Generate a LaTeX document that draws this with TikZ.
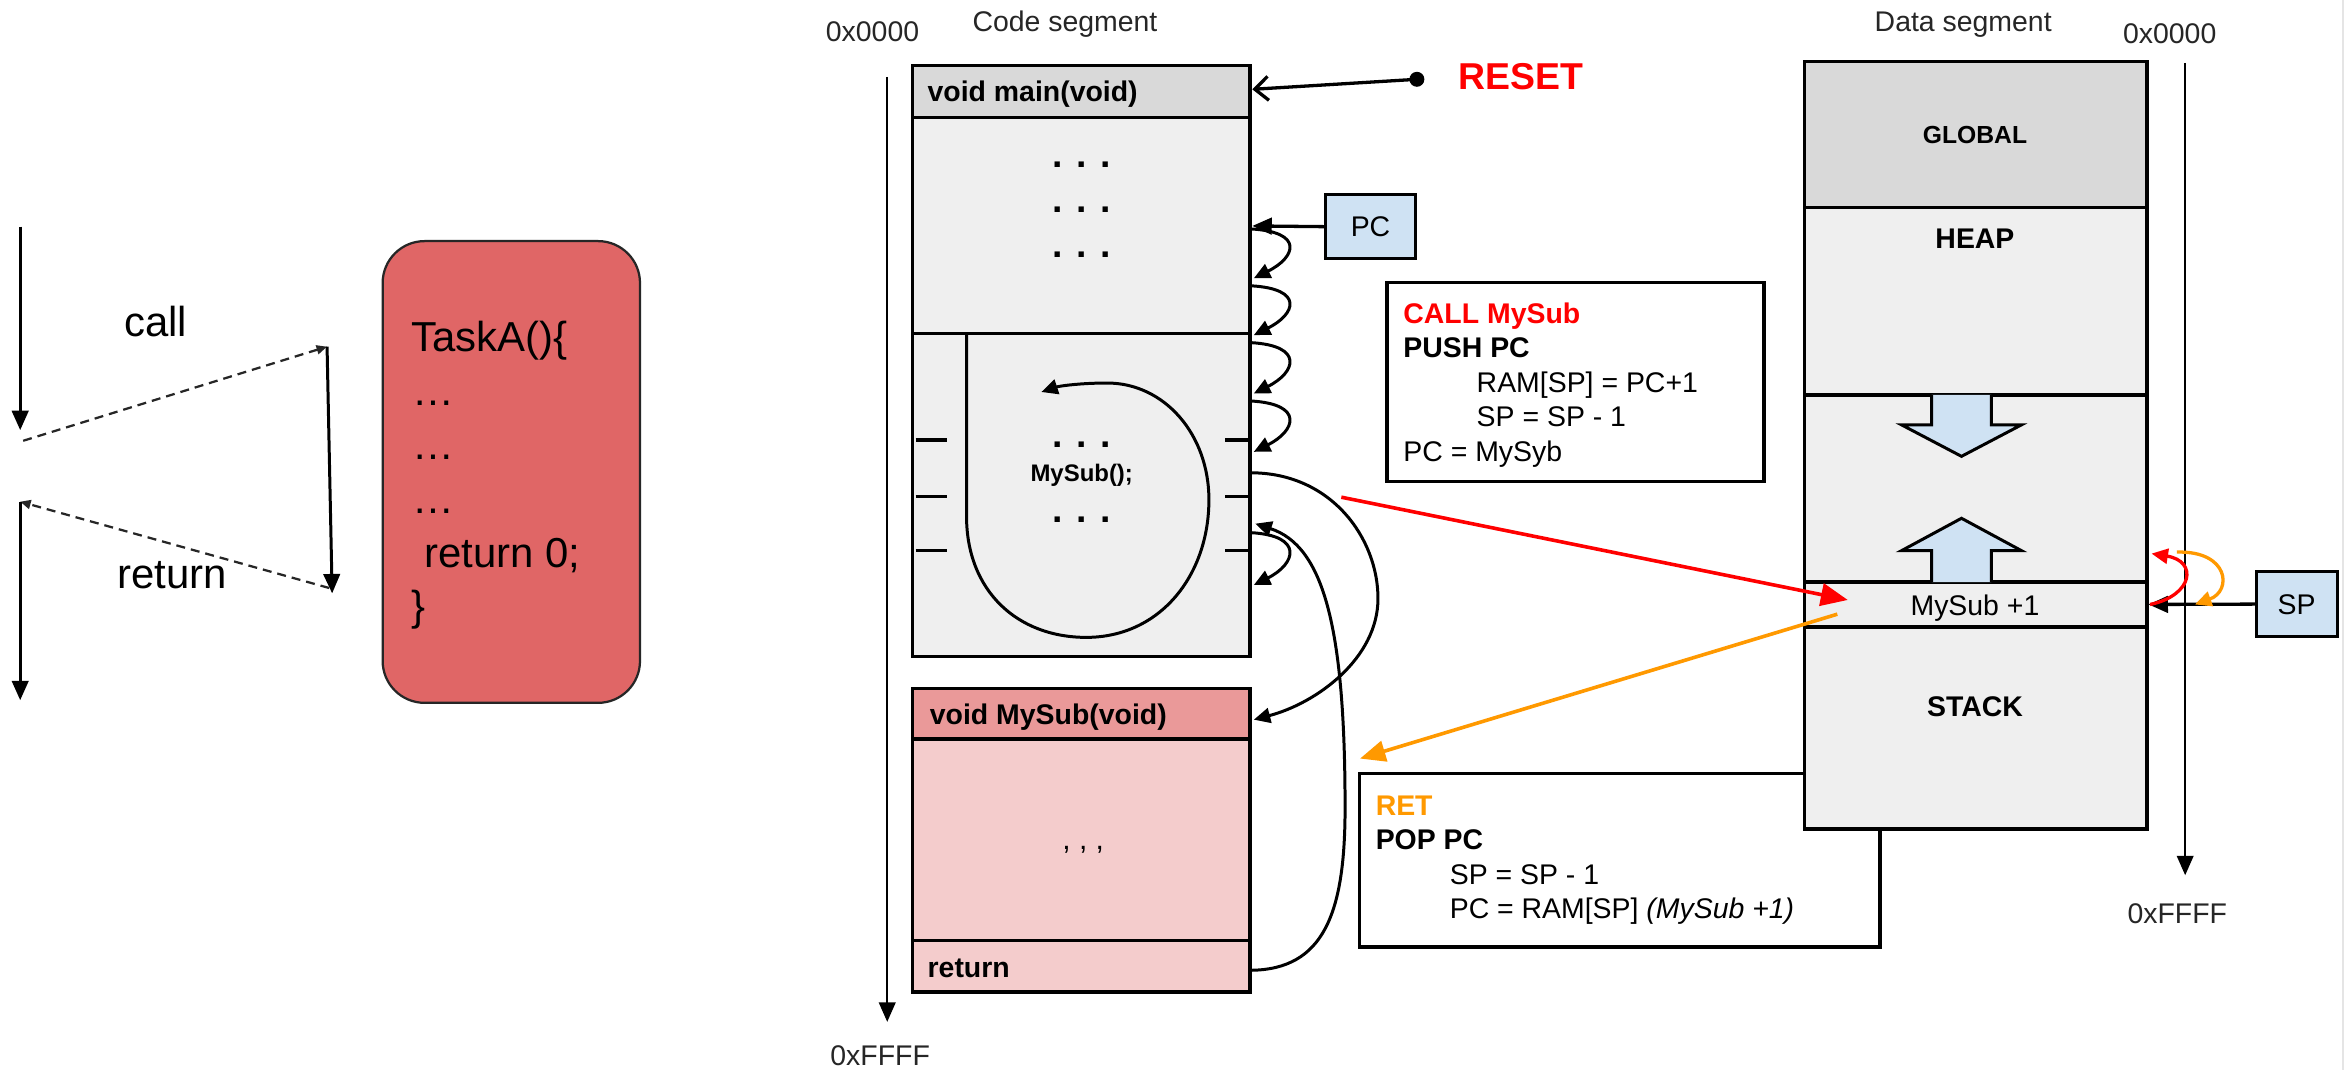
\documentclass[tikz,border=0pt]{standalone}
\usepackage{fontspec}
\setmainfont{Liberation Sans}
\usetikzlibrary{arrows.meta,calc}
\definecolor{taskred}{HTML}{E06666}
\definecolor{hdrgray}{HTML}{D9D9D9}
\definecolor{bodygray}{HTML}{EFEFEF}
\definecolor{subhdr}{HTML}{EA9999}
\definecolor{subbody}{HTML}{F4CCCC}
\definecolor{regblue}{HTML}{CFE2F3}
\definecolor{callred}{HTML}{FF0000}
\definecolor{retorange}{HTML}{FF9900}
\newcommand{\fS}{\fontsize{19pt}{23pt}\selectfont}
\newcommand{\fL}{\fontsize{28pt}{36pt}\selectfont}
\begin{document}
\begin{tikzpicture}[x=1pt,y=-1pt,
  txt/.style={inner sep=0pt, outer sep=0pt, text=black, anchor=base west},
  ctxt/.style={inner sep=0pt, outer sep=0pt, text=black, anchor=base},
  seg/.style={draw=black, line width=2.2pt, inner sep=0pt, outer sep=0pt, anchor=north west},
  conn/.style={draw=black, line width=2pt},
  tipT/.style={-{Triangle[length=13pt,width=11pt]}},
  tipH/.style={-{Triangle[length=11pt,width=10pt]}},
  tipD/.style={-{Triangle[length=7pt,width=6pt]}},
  dashconn/.style={draw=black!85, line width=1.5pt, dash pattern=on 6pt off 4pt},
  tickmark/.style={draw=black, line width=2.2pt},
  blockarrow/.style={fill=regblue},
  blockedge/.style={draw=black, line width=2pt, line join=miter}
]
\useasboundingbox (0,0) rectangle (1568,715);
\fill[white] (0,0) rectangle (1568,715);
\draw[gray!20, line width=1pt] (1566,0) -- (1566,715);

% ---------- left: call / return sketch ----------
\coordinate (m1a) at (13.5,151.5);
\coordinate (m1b) at (13.5,287.5);
\coordinate (d1a) at (15.5,294.6);
\coordinate (t2a) at (218.6,231.7);
\coordinate (t2b) at (222,396.6);
\coordinate (d2a) at (220,393);
\coordinate (m3a) at (13.5,335.3);
\coordinate (m3b) at (13.5,468);
\draw[conn, tipT] (m1a) -- (m1b);
\draw[dashconn, tipD] (d1a) -- (t2a);
\draw[conn, tipT] (t2a) -- (t2b);
\draw[dashconn, tipD] (d2a) -- (m3a);
\draw[conn, tipT] (m3a) -- (m3b);
\node[txt, font=\fL] (calllbl) at (83,225) {call};
\node[txt, font=\fL] (retlbl) at (78.5,393) {return};

\node[draw=black!85, line width=1.5pt, rounded corners=28pt, fill=taskred,
      minimum width=172pt, minimum height=308.6pt, inner sep=0pt, anchor=north west] (taskA) at (255,160.4) {};
\node[txt, font=\fL] (ta1) at (275,235) {TaskA()\{};
\node[txt, font=\fL] (ta2) at (276,271) {…};
\node[txt, font=\fL] (ta3) at (276,307) {…};
\node[txt, font=\fL] (ta4) at (276,343) {…};
\node[txt, font=\fL] (ta5) at (283.5,379) {return 0;};
\node[txt, font=\fL] (ta6) at (275,415) {\}};

% ---------- code segment ----------
\node[txt, font=\fS, text=black!85] (c0) at (552,28) {0x0000};
\node[txt, font=\fS, text=black!85] (ctitle) at (650,21) {Code segment};
\node[txt, font=\fS, text=black!85] (cF) at (555,712) {0xFFFF};
\coordinate (caxA) at (593,51.3);
\coordinate (caxB) at (593,683);
\draw[conn, line width=1.6pt, tipT] (caxA) -- (caxB);

\node[seg, fill=bodygray, minimum width=225.5pt, minimum height=145pt] (mainbody) at (610,78) {};
\node[seg, fill=bodygray, minimum width=225.5pt, minimum height=216pt] (callarea) at (610,223) {};
\node[seg, fill=hdrgray, minimum width=225.5pt, minimum height=34.5pt] (mainhdr) at (610,44) {};
\node[txt, font=\fS\bfseries] (mainlbl) at (620,68) {void main(void)};
\node[ctxt, font=\fontsize{25pt}{30pt}\selectfont\bfseries] (dots1) at (723,111.7) {. . .};
\node[ctxt, font=\fontsize{25pt}{30pt}\selectfont\bfseries] (dots2) at (723,141.7) {. . .};
\node[ctxt, font=\fontsize{25pt}{30pt}\selectfont\bfseries] (dots3) at (723,172) {. . .};
\node[ctxt, font=\fontsize{25pt}{30pt}\selectfont\bfseries] (dots4) at (723,299.2) {. . .};
\node[ctxt, font=\fontsize{16pt}{20pt}\selectfont\bfseries] (mysubcall) at (723,322) {MySub();};
\node[ctxt, font=\fontsize{25pt}{30pt}\selectfont\bfseries] (dots5) at (723,349) {. . .};

\foreach \ty in {294,332,368} {
  \draw[tickmark] (612,\ty) -- (633,\ty);
  \draw[tickmark] (819,\ty) -- (835,\ty);
}
\coordinate (loopA) at (646,223);
\coordinate (loopB) at (696,262);
\draw[conn, tipH] (loopA) -- (646,345)
  .. controls (646,395) and (680,426) .. (726,426)
  .. controls (775,426) and (808,385) .. (808,334)
  .. controls (808,290) and (778,256) .. (740,256)
  .. controls (722,256) and (708,258) .. (loopB);

\node[seg, fill=subbody, minimum width=225.5pt, minimum height=134.5pt] (subbody) at (610,494) {};
\node[seg, fill=subbody, minimum width=225.5pt, minimum height=34.5pt] (subret) at (610,628.5) {};
\node[seg, fill=subhdr, minimum width=225.5pt, minimum height=34pt] (subhdr) at (610,460) {};
\node[txt, font=\fS\bfseries] (sublbl) at (621.5,484.5) {void MySub(void)};
\node[ctxt, font=\fontsize{20pt}{24pt}\selectfont] (commas) at (724,568) {, , ,};
\node[txt, font=\fS\bfseries] (retword) at (620,653) {return};

% RESET
\coordinate (resetdot) at (947,53);
\coordinate (resettip) at (837,59.7);
\fill[black] (resetdot) circle (5pt);
\draw[conn, line width=2.2pt, -{Straight Barb[length=9pt,width=16pt,line width=2.2pt]}] (resetdot) -- (resettip);
\node[txt, font=\fontsize{25pt}{30pt}\selectfont\bfseries, text=callred] (resetlbl) at (975,60) {RESET};

% PC
\node[seg, fill=regblue, minimum width=60pt, minimum height=43pt] (pcbox) at (886,130) {};
\node[ctxt, font=\fS] (pclbl) at (916,158) {PC};
\coordinate (pcin) at (837,151);
\draw[conn, line width=2.2pt, tipT] (pcbox.west) -- (pcin);
\foreach \a/\b in {153/186,191/224,229/263,268/302,356/391} {
  \draw[conn, tipH] (836,\a) .. controls (872,\a+2) and (866,\b-14) .. (838,\b);
}

% call arc and return arc
\coordinate (callfrom) at (836,316);
\coordinate (callto) at (838,481);
\draw[conn, tipH] (callfrom) .. controls (890,316) and (921,360) .. (921,400)
  .. controls (921,440) and (880,470) .. (callto);
\coordinate (retfrom) at (836,648.5);
\coordinate (retto) at (839,350);
\draw[conn, tipH] (retfrom) .. controls (885,648) and (899,610) .. (899,540)
  .. controls (899,420) and (885,365) .. (retto);

% CALL box
\node[seg, fill=white, minimum width=252pt, minimum height=133pt] (callbox) at (927,189) {};
\node[txt, font=\fS\bfseries, text=callred] (cb1) at (938,216) {CALL MySub};
\node[txt, font=\fS\bfseries] (cb2) at (938,239) {PUSH PC};
\node[txt, font=\fS] (cb3) at (987,262) {RAM[SP] = PC+1};
\node[txt, font=\fS] (cb4) at (987,285) {SP = SP - 1};
\node[txt, font=\fS] (cb5) at (938,308.5) {PC = MySyb};

% RET box (behind data segment)
\node[seg, fill=white, minimum width=347.7pt, minimum height=116pt] (retbox) at (908.8,517) {};
\node[txt, font=\fS\bfseries, text=retorange] (rb1) at (919.5,545) {RET};
\node[txt, font=\fS\bfseries] (rb2) at (919.5,568) {POP PC};
\node[txt, font=\fS] (rb3) at (969,591) {SP = SP - 1};
\node[txt, font=\fS] (rb4) at (969,614) {PC = RAM[SP] \textit{(MySub +1)}};

% ---------- data segment ----------
\node[txt, font=\fS, text=black!85] (dtitle) at (1253,21) {Data segment};
\node[txt, font=\fS, text=black!85] (d0) at (1419,29) {0x0000};
\node[txt, font=\fS, text=black!85] (dF) at (1422,617) {0xFFFF};
\coordinate (daxA) at (1460.5,42);
\coordinate (daxB) at (1460.5,585);
\draw[conn, line width=1.6pt, tipT] (daxA) -- (daxB);

\node[seg, fill=hdrgray, minimum width=229pt, minimum height=97.5pt] (global) at (1206,41) {};
\node[seg, fill=bodygray, minimum width=229pt, minimum height=125.5pt] (heap) at (1206,138.5) {};
\node[seg, fill=bodygray, minimum width=229pt, minimum height=125pt] (free) at (1206,264) {};
\node[seg, fill=bodygray, minimum width=229pt, minimum height=30pt] (slot) at (1206,389) {};
\node[seg, fill=bodygray, minimum width=229pt, minimum height=135pt] (stack) at (1206,419) {};
\node[ctxt, font=\fontsize{16.5pt}{20pt}\selectfont\bfseries] (globallbl) at (1320,95.8) {GLOBAL};
\node[ctxt, font=\fS\bfseries] (heaplbl) at (1320,166) {HEAP};
\node[ctxt, font=\fS] (slotlbl) at (1320,411.5) {MySub +1};
\node[ctxt, font=\fS\bfseries] (stacklbl) at (1320,479) {STACK};

% block arrows
\fill[blockarrow] (1291,264) -- (1291,284) -- (1271,284) -- (1311,305) -- (1351,284) -- (1331,284) -- (1331,264) -- cycle;
\draw[blockedge] (1291,264) -- (1291,284) -- (1271,284) -- (1311,305) -- (1351,284) -- (1331,284) -- (1331,264);
\fill[blockarrow] (1291,389) -- (1291,368) -- (1271,368) -- (1311,346.4) -- (1351,368) -- (1331,368) -- (1331,389) -- cycle;
\draw[blockedge] (1291,389) -- (1291,368) -- (1271,368) -- (1311,346.4) -- (1351,368) -- (1331,368) -- (1331,389);

% SP
\node[seg, fill=regblue, minimum width=54.5pt, minimum height=43.5pt] (spbox) at (1508,382) {};
\node[ctxt, font=\fS] (splbl) at (1535,410.8) {SP};
\coordinate (spin) at (1436,404);
\draw[conn, line width=2.2pt, tipT] (spbox.west) -- (spin);
\coordinate (redA) at (1437,404);
\coordinate (redB) at (1438,370);
\draw[draw=callred, line width=2.2pt, -{Triangle[length=11pt,width=10pt]}] (redA) .. controls (1466,398) and (1469,375) .. (redB);
\coordinate (orA) at (1455,369);
\coordinate (orB) at (1467,404);
\draw[draw=retorange, line width=2.2pt, -{Triangle[length=11pt,width=10pt]}] (orA) .. controls (1490,368) and (1492,395) .. (orB);

% long red / orange arrows
\coordinate (pushfrom) at (896.5,332.3);
\coordinate (pushto) at (1235,401);
\draw[draw=callred, line width=2.4pt, -{Triangle[length=18pt,width=15pt]}] (pushfrom) -- (pushto);
\coordinate (popfrom) at (1228,410.5);
\coordinate (popto) at (909,507);
\draw[draw=retorange, line width=2.4pt, -{Triangle[length=17pt,width=14pt]}] (popfrom) -- (popto);
\end{tikzpicture}
\end{document}
